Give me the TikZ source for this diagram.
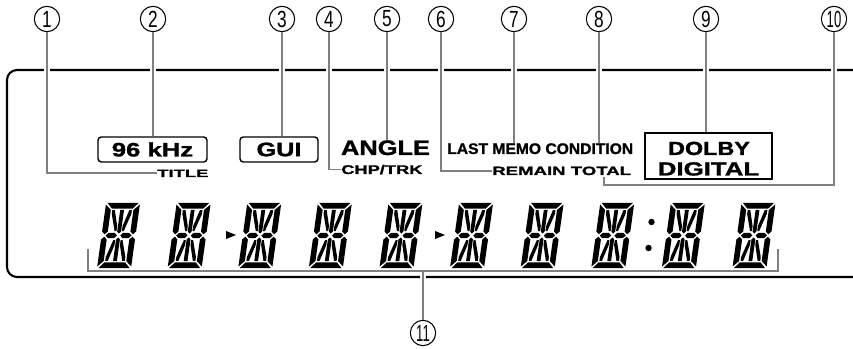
\documentclass[tikz,border=0pt]{standalone}
\usepackage{fontspec}
\setmainfont{Liberation Sans}[BoldFeatures={FakeBold=1.2}]
\usepackage{graphicx}
\usetikzlibrary{calc}
\definecolor{lead}{RGB}{128,128,128}
\newcommand{\stx}[3]{{\fontsize{#1pt}{#1pt}\selectfont\scalebox{#2}[1]{#3}}}
\newcommand{\nm}[1]{\raisebox{-0.3pt}{\stx{17.5}{0.74}{#1}}}
\newcommand{\nmm}[1]{\raisebox{-0.3pt}{\stx{17.5}{0.56}{#1}}}
\tikzset{
  seg/.pic={
    \begin{scope}[x={(0.75pt,0pt)}, y={(0.105pt,0.75pt)}]
      % outer segments
      \fill (1.5,65) -- (32.5,65) -- (27.3,59.3) -- (6.7,59.3) -- cycle;
      \fill (1.5,0) -- (32.5,0) -- (27.3,5.7) -- (6.7,5.7) -- cycle;
      \fill (0,63.5) -- (5.7,58.1) -- (5.7,36.5) -- (2.85,33.7) -- (0,36.5) -- cycle;
      \fill (0,1.5) -- (5.7,6.9) -- (5.7,28.5) -- (2.85,31.3) -- (0,28.5) -- cycle;
      \fill (34,63.5) -- (28.3,58.1) -- (28.3,36.5) -- (31.15,33.7) -- (34,36.5) -- cycle;
      \fill (34,1.5) -- (28.3,6.9) -- (28.3,28.5) -- (31.15,31.3) -- (34,28.5) -- cycle;
      % middle bars
      \fill (4,32.5) -- (6.7,35.2) -- (12.8,35.2) -- (15.3,32.5) -- (12.8,29.8) -- (6.7,29.8) -- cycle;
      \fill (30,32.5) -- (27.3,35.2) -- (21.2,35.2) -- (18.7,32.5) -- (21.2,29.8) -- (27.3,29.8) -- cycle;
      % centre verticals
      \fill (17,34.5) -- (18.9,36.4) -- (18.9,58.1) -- (15.1,58.1) -- (15.1,36.4) -- cycle;
      \fill (17,30.5) -- (18.9,28.6) -- (18.9,6.9) -- (15.1,6.9) -- (15.1,28.6) -- cycle;
      % diagonals
      \fill (7.2,57.8) -- (9.8,57.8) -- (14.3,42) -- (14.3,37) -- (12.4,37) -- (7.2,54) -- cycle;
      \fill (26.8,57.8) -- (24.2,57.8) -- (19.7,42) -- (19.7,37) -- (21.6,37) -- (26.8,54) -- cycle;
      \fill (7.2,7.2) -- (9.8,7.2) -- (14.3,23) -- (14.3,28) -- (12.4,28) -- (7.2,11) -- cycle;
      \fill (26.8,7.2) -- (24.2,7.2) -- (19.7,23) -- (19.7,28) -- (21.6,28) -- (26.8,11) -- cycle;
    \end{scope}
  }
}
\begin{document}
\begin{tikzpicture}[x=0.75pt,y=-0.75pt,
  frame/.style={draw=black, line width=1.6pt, rounded corners=7.5pt},
  num/.style={circle, draw=black, line width=0.8pt, minimum size=19pt, inner sep=0pt},
  lab/.style={inner sep=0pt, font=\bfseries},
  rbox/.style={draw=black, line width=1.1pt, rounded corners=2.5pt, inner sep=0pt, font=\bfseries},
  leader/.style={draw=lead, line width=1.4pt,
     preaction={draw=white, line width=4.5pt, shorten >=1.5pt, shorten <=1.5pt}},
  bracket/.style={draw=lead, line width=1.4pt},
  arrowmark/.style={fill=black}
]
\useasboundingbox (0,0) rectangle (853,349);

% display frame
\draw[frame] (853,70) -- (7,70) -- (7,277) -- (853,277);

% circled numbers
\node[num] (c1) at (47,19) {\nm{1}};
\node[num] (c2) at (153,19) {\nm{2}};
\node[num] (c3) at (282,19) {\nm{3}};
\node[num] (c4) at (329,19) {\nm{4}};
\node[num] (c5) at (387,19) {\nm{5}};
\node[num] (c6) at (441,19) {\nm{6}};
\node[num] (c7) at (514,19) {\nm{7}};
\node[num] (c8) at (599,19) {\nm{8}};
\node[num] (c9) at (706,19) {\nm{9}};
\node[num] (c10) at (834,19) {\nmm{10}};
\node[num] (c11) at (423,333) {\nmm{11}};

% indicator labels
\node[rbox, minimum width=81.75pt, minimum height=18.75pt] (k96) at (152.5,149.5) {\stx{14.6}{1.32}{96 kHz}};
\node[rbox, minimum width=58.5pt, minimum height=18.75pt] (gui) at (279,149.5) {\stx{14.6}{1.3}{GUI}};
\node[lab, anchor=base west] (title) at (157,177) {\stx{7.9}{1.75}{TITLE}};
\node[lab, anchor=base] (angle) at (385.5,155) {\stx{15.75}{1.21}{ANGLE}};
\node[lab, anchor=base west] (chp) at (341,174) {\stx{9.45}{1.45}{CHP/TRK}};
\node[lab, anchor=base west] (memo) at (447,154) {\stx{11.5}{1.02}{LAST MEMO CONDITION}};
\node[lab, anchor=base west] (remain) at (492,175) {\stx{9}{1.55}{REMAIN TOTAL}};
\node[draw=black, line width=1.1pt, minimum width=95.25pt, minimum height=34.5pt, inner sep=0pt] (dolby) at (708.5,156) {};
\node[lab, anchor=base] (dolbyt) at (709,155) {\stx{14.25}{1.23}{DOLBY}};
\node[lab, anchor=base] (digital) at (708.5,175.5) {\stx{14.25}{1.36}{DIGITAL}};

% 14-segment digits
\foreach \i in {0,...,9} {
  \pic at ({97+70.6*\i},268) {seg};
}
\fill[arrowmark] (226,231) -- (236,235) -- (226,239) -- cycle;
\fill[arrowmark] (435,231) -- (445,235) -- (435,239) -- cycle;
\fill (651.5,222) circle (3.2);
\fill (648.5,248) circle (3.2);

% leaders
\draw[leader] (c1.south) |- (title.west);
\draw[leader] (c2.south) -- (c2.south |- k96.north);
\draw[leader] (c3.south) -- (c3.south |- gui.north);
\draw[leader] (c4.south) |- (chp.west);
\draw[leader] (c5.south) -- (c5.south |- angle.north);
\draw[leader] (c6.south) |- (remain.west);
\draw[leader] (c7.south) -- (c7.south |- memo.north);
\draw[leader] (c8.south) -- (c8.south |- memo.north);
\draw[leader] (c9.south) -- (c9.south |- dolby.north);
\coordinate (k10) at (604,185);
\coordinate (k10e) at (604,177);
\draw[leader] (c10.south) |- (k10) -- (k10e);

% digit bracket
\coordinate (bl) at (88,249);
\coordinate (blc) at (88,271);
\coordinate (brc) at (778,271);
\coordinate (br) at (778,249);
\draw[bracket] (bl) -- (blc) -- (brc) -- (br);
\draw[leader] (c11.north) -- (c11.north |- blc);
\end{tikzpicture}
\end{document}
